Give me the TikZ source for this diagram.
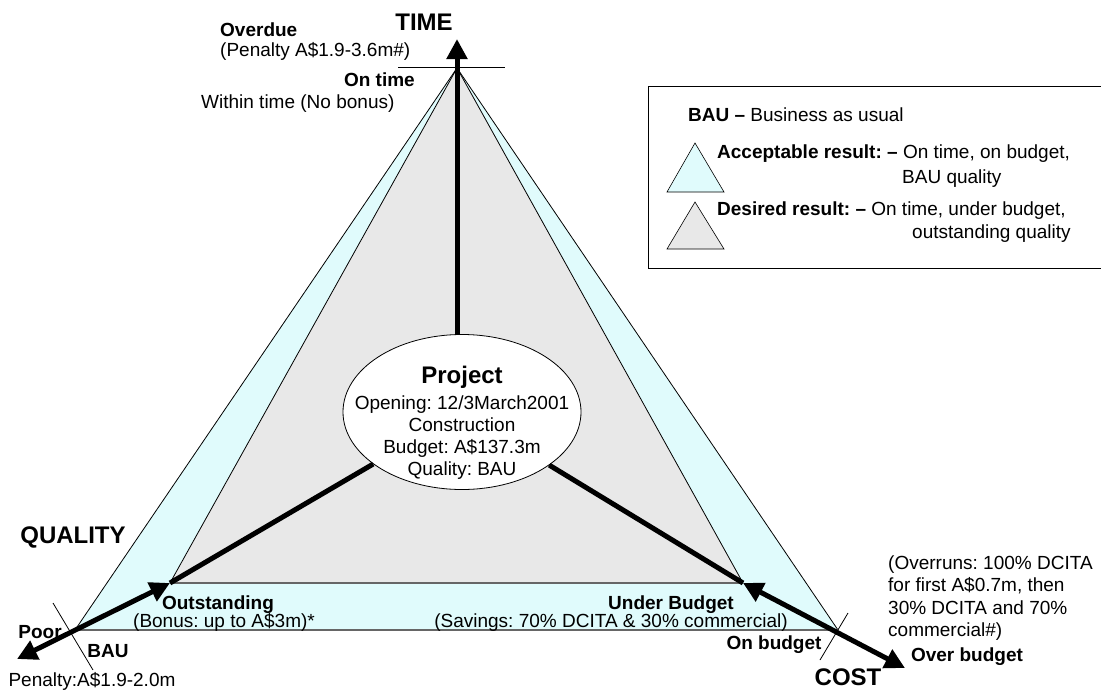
\documentclass[tikz,border=0pt]{standalone}
\usepackage{fontspec}
\setmainfont{Liberation Sans}
\usetikzlibrary{arrows.meta,shapes.geometric}

\definecolor{accept}{RGB}{224,251,252}
\definecolor{desired}{RGB}{232,232,232}

\tikzset{
  plain/.style={inner sep=0pt, font=\fontsize{19}{22.3}\selectfont},
  txt/.style={plain, text height=13.6pt, text depth=0pt},
  lbl/.style={txt, font=\fontsize{19}{22.3}\selectfont\bfseries},
  axisname/.style={inner sep=0pt, text height=17.2pt, text depth=0pt,
    font=\fontsize{24}{28}\selectfont\bfseries},
  axis/.style={line width=5pt, >={Triangle[width=20pt,length=20pt]}},
  edge/.style={line width=0.8pt},
  bottomedge/.style={line width=1.4pt, black!60},
  projbox/.style={ellipse, draw, fill=white, line width=0.8pt,
    minimum width=238pt, minimum height=155pt, inner sep=0pt}
}

\begin{document}
\frenchspacing
\begin{tikzpicture}[x=1pt,y=-1pt]
    \useasboundingbox (0,0) rectangle (1101,691);
    % corners of the two result triangles
    \coordinate (apex) at (457,68);
    \coordinate (outL) at (75,630);
    \coordinate (outR) at (838,630);
    \coordinate (inL) at (170,583);
    \coordinate (inR) at (743,583);
    % arrow ends and scale ticks
    \coordinate (timetip) at (457,39);
    \coordinate (poortip) at (17,659);
    \coordinate (overtip) at (905,668);
    \coordinate (ttickA) at (398,67);
    \coordinate (ttickB) at (505,67);
    \coordinate (qtickA) at (53,603);
    \coordinate (qtickB) at (93,670);
    \coordinate (ctickA) at (848,613);
    \coordinate (ctickB) at (820,660);

    \fill[accept] (outL) -- (apex) -- (outR) -- cycle;
    \fill[desired] (inL) -- (apex) -- (inR) -- cycle;
    \draw[edge] (outL) -- (apex) -- (outR);
    \draw[edge] (inL) -- (apex) -- (inR);
    \draw[bottomedge] (outL) -- (outR);
    \draw[bottomedge] (inL) -- (inR);
    \draw[edge] (ttickA) -- (ttickB);
    \draw[edge] (qtickA) -- (qtickB);
    \draw[edge] (ctickA) -- (ctickB);

    % legend
    \draw[edge] (648,86) rectangle (1110,268);
    \filldraw[fill=accept, draw=black, line width=0.6pt] (667,192) -- (695,143) -- (724,192) -- cycle;
    \filldraw[fill=desired, draw=black, line width=0.6pt] (667,249) -- (695,202) -- (724,249) -- cycle;
    \node[txt, anchor=west] (legbau) at (688,115) {\textbf{BAU –} Business as usual};
    \node[txt, anchor=west] (legacc) at (717,152) {\textbf{Acceptable result: –} On time, on budget,};
    \node[txt, anchor=west] (legacc2) at (902,177) {BAU quality};
    \node[txt, anchor=west] (legdes) at (717,209) {\textbf{Desired result: –} On time, under budget,};
    \node[txt, anchor=west] (legdes2) at (912,232) {outstanding quality};

    % project in the middle
    \node[projbox] (proj) at (462,412) {};
    \node[plain, align=center] (projtxt) at (462,423)
      {{\fontsize{24}{22.3}\selectfont\bfseries Project}\\[3.3pt]
       Opening: 12/3March2001\\Construction\\Budget: A\$137.3m\\Quality: BAU};

    \draw[axis] (proj) -- (inL);
    \draw[axis] (proj) -- (inR);
    \draw[axis, ->] (proj.north -| apex) -- (timetip);
    \draw[axis, <->] (inL) -- (poortip);
    \draw[axis, <->] (inR) -- (overtip);

    % time
    \node[axisname] (time) at (424,22) {TIME};
    \node[lbl, anchor=west] (overdue) at (220,30) {Overdue};
    \node[txt, anchor=west] (overpen) at (220,50) {(Penalty A\$1.9-3.6m\#)};
    \node[lbl, anchor=east] (ontime) at (415,80) {On time};
    \node[txt, anchor=west] (within) at (201,102) {Within time (No bonus)};

    % quality
    \node[axisname] (quality) at (73,535) {QUALITY};
    \node[lbl] (poor) at (40,632) {Poor};
    \node[lbl] (qbau) at (108,651) {BAU};
    \node[txt] (poorpen) at (92,680) {Penalty:A\$1.9-2.0m};
    \node[lbl] (outst) at (218,603) {Outstanding};
    \node[txt] (bonus) at (224,621) {(Bonus: up to A\$3m)*};

    % cost
    \node[lbl] (under) at (671,603) {Under Budget};
    \node[txt] (savings) at (611,621) {(Savings: 70\% DCITA \& 30\% commercial)};
    \node[lbl] (onbud) at (774,643) {On budget};
    \node[axisname] (cost) at (848,677) {COST};
    \node[plain, align=left, anchor=west] (overruns) at (888,598)
      {(Overruns: 100\% DCITA\\for first A\$0.7m, then\\30\% DCITA and 70\%\\commercial\#)};
    \node[lbl] (overbud) at (967,655) {Over budget};
\end{tikzpicture}
\end{document}
